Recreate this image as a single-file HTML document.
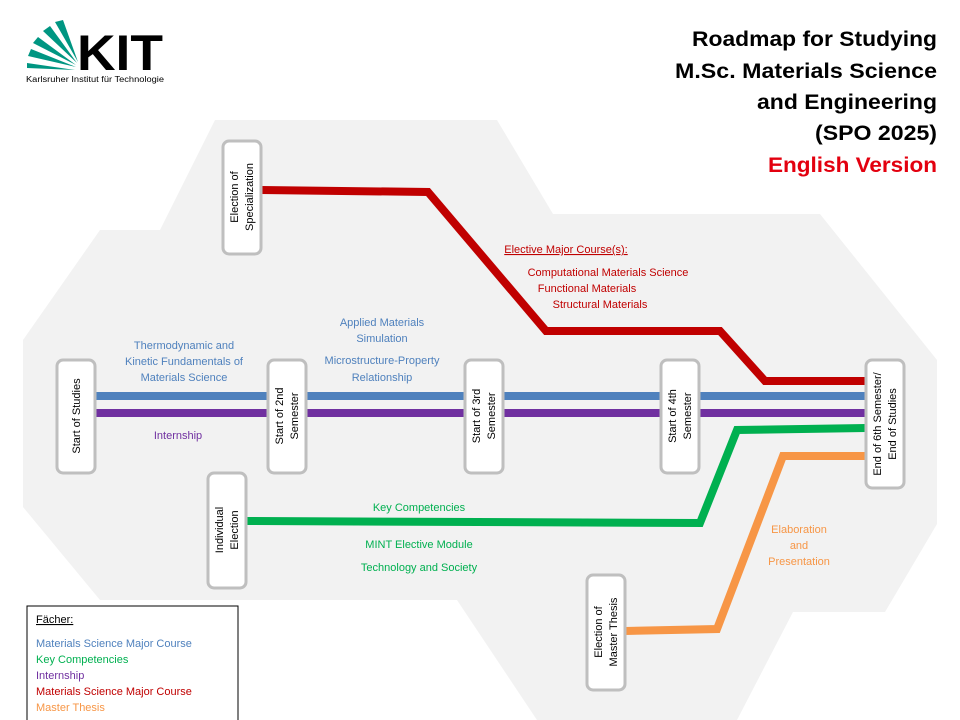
<!DOCTYPE html>
<html><head><meta charset="utf-8"><style>
html,body{margin:0;padding:0;background:#fff;}
svg{display:block;}
text{font-family:"Liberation Sans",sans-serif;}
</style></head><body>
<svg width="960" height="720" viewBox="0 0 960 720" xmlns="http://www.w3.org/2000/svg">
<!-- background polygon -->
<polygon fill="#f2f2f2" points="215,120 497,120 553,214 820,214 937,360 937,524 885,612 793,612 737,720 537,720 457,600 100,600 23,507 23,340 100,230 160,230"/>

<!-- KIT logo -->
<g fill="#009682">
<polygon points="75,70 27,68 27,63"/>
<polygon points="76,67 28,56 31,49"/>
<polygon points="76,65 33,43 38,37"/>
<polygon points="77,63 43,31 50,26"/>
<polygon points="78,62 55,22 63,20"/>
</g>
<text x="77" y="70" font-size="50" font-weight="bold" fill="#000" textLength="86" lengthAdjust="spacingAndGlyphs">KIT</text>
<text x="26" y="82" font-size="8" fill="#000" textLength="138" lengthAdjust="spacingAndGlyphs">Karlsruher Institut für Technologie</text>

<!-- title -->
<g font-weight="bold" font-size="21" text-anchor="end">
<text x="937" y="46" textLength="245" lengthAdjust="spacingAndGlyphs">Roadmap for Studying</text>
<text x="937" y="78" textLength="262" lengthAdjust="spacingAndGlyphs">M.Sc. Materials Science</text>
<text x="937" y="109" textLength="180" lengthAdjust="spacingAndGlyphs">and Engineering</text>
<text x="937" y="140" textLength="122" lengthAdjust="spacingAndGlyphs">(SPO 2025)</text>
<text x="937" y="172" fill="#e3000f" textLength="169" lengthAdjust="spacingAndGlyphs">English Version</text>
</g>

<!-- lines -->
<g fill="none" stroke-width="8" stroke-linejoin="miter">
<polyline stroke="#c00000" points="261,190 428,192 546,331 720,331 765,381 866,381"/>
<line stroke="#4f81bd" x1="95" y1="396" x2="866" y2="396"/>
<line stroke="#7030a0" x1="95" y1="413" x2="866" y2="413"/>
<polyline stroke="#00b050" points="246,521 700,523 737,430 866,428"/>
<polyline stroke="#f79646" points="625,631 717,629 783,456 866,456"/>
</g>

<!-- boxes -->
<g fill="#fff" stroke="#bfbfbf" stroke-width="3">
<rect x="223" y="141" width="38" height="113" rx="6"/>
<rect x="57" y="360" width="38" height="113" rx="6"/>
<rect x="268" y="360" width="38" height="113" rx="6"/>
<rect x="465" y="360" width="38" height="113" rx="6"/>
<rect x="661" y="360" width="38" height="113" rx="6"/>
<rect x="866" y="360" width="38" height="128" rx="6"/>
<rect x="208" y="473" width="38" height="115" rx="6"/>
<rect x="587" y="575" width="38" height="115" rx="6"/>
</g>
<g font-size="11" fill="#000" text-anchor="middle">
<text transform="translate(242,197) rotate(-90)"><tspan x="0" y="-4">Election of</tspan><tspan x="0" y="11">Specialization</tspan></text>
<text transform="translate(80,416) rotate(-90)">Start of Studies</text>
<text transform="translate(287,416) rotate(-90)"><tspan x="0" y="-4">Start of 2nd</tspan><tspan x="0" y="11">Semester</tspan></text>
<text transform="translate(484,416) rotate(-90)"><tspan x="0" y="-4">Start of 3rd</tspan><tspan x="0" y="11">Semester</tspan></text>
<text transform="translate(680,416) rotate(-90)"><tspan x="0" y="-4">Start of 4th</tspan><tspan x="0" y="11">Semester</tspan></text>
<text transform="translate(885,424) rotate(-90)"><tspan x="0" y="-4">End  of 6th Semester/</tspan><tspan x="0" y="11">End of Studies</tspan></text>
<text transform="translate(227,530) rotate(-90)"><tspan x="0" y="-4">Individual</tspan><tspan x="0" y="11">Election</tspan></text>
<text transform="translate(606,632) rotate(-90)"><tspan x="0" y="-4">Election of</tspan><tspan x="0" y="11">Master Thesis</tspan></text>
</g>

<!-- labels -->
<g font-size="11" text-anchor="middle">
<g fill="#4f81bd">
<text x="184" y="349">Thermodynamic and</text>
<text x="184" y="365">Kinetic Fundamentals of</text>
<text x="184" y="381">Materials Science</text>
<text x="382" y="326">Applied Materials</text>
<text x="382" y="342">Simulation</text>
<text x="382" y="364">Microstructure-Property</text>
<text x="382" y="381">Relationship</text>
</g>
<text x="178" y="439" fill="#7030a0">Internship</text>
<g fill="#00b050">
<text x="419" y="511">Key Competencies</text>
<text x="419" y="548">MINT Elective Module</text>
<text x="419" y="571">Technology and Society</text>
</g>
<g fill="#c00000">
<text x="608" y="276">Computational Materials Science</text>
<text x="587" y="292">Functional Materials</text>
<text x="600" y="308">Structural Materials</text>
</g>
<text x="566" y="253" fill="#c00000" text-decoration="underline">Elective Major Course(s):</text>
<g fill="#f79646">
<text x="799" y="533">Elaboration</text>
<text x="799" y="549">and</text>
<text x="799" y="565">Presentation</text>
</g>
</g>

<!-- legend -->
<rect x="27" y="606" width="211" height="120" fill="#fff" stroke="#000" stroke-width="1"/>
<g font-size="11">
<text x="36" y="623" fill="#000" text-decoration="underline">Fächer:</text>
<text x="36" y="647" fill="#4f81bd">Materials Science Major Course</text>
<text x="36" y="663" fill="#00b050">Key Competencies</text>
<text x="36" y="679" fill="#7030a0">Internship</text>
<text x="36" y="695" fill="#c00000">Materials Science Major Course</text>
<text x="36" y="711" fill="#f79646">Master Thesis</text>
</g>
</svg>
</body></html>
